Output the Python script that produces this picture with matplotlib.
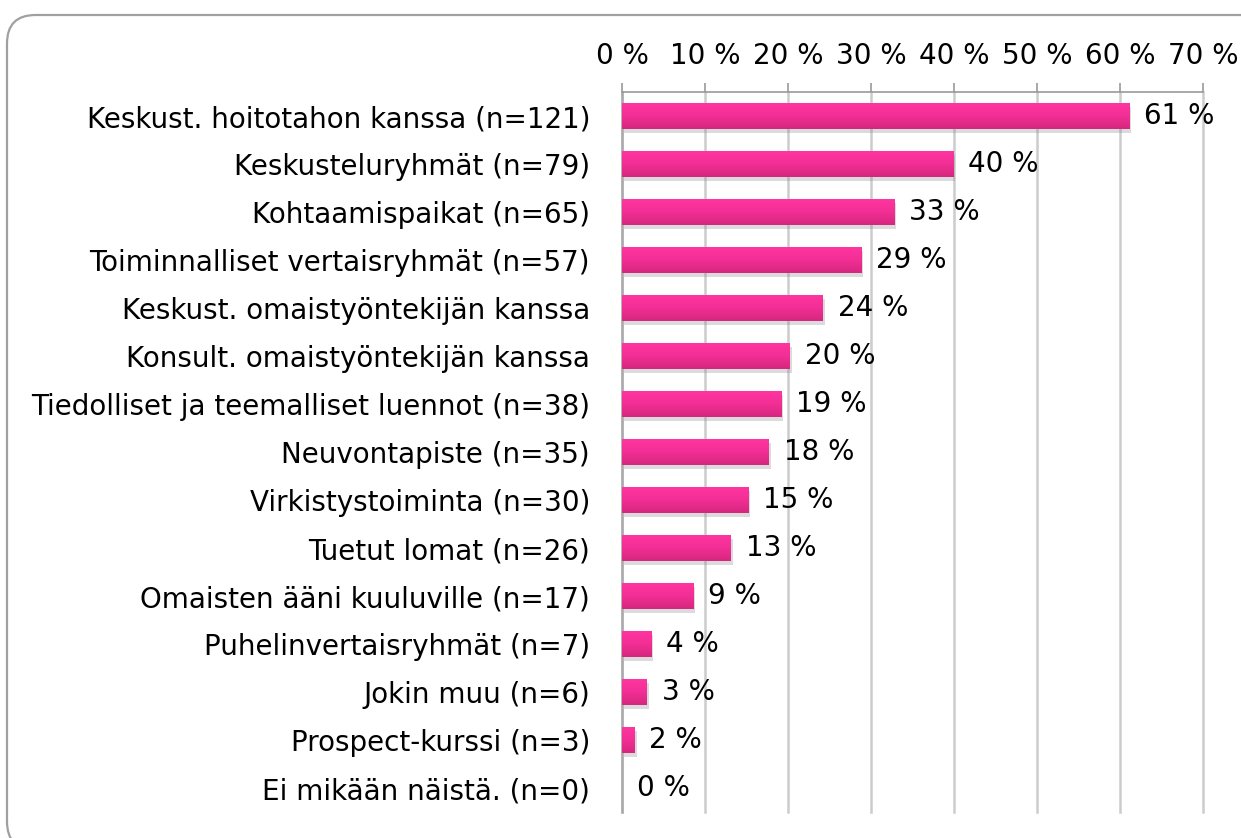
import numpy as np
import matplotlib
matplotlib.use("Agg")
import matplotlib.pyplot as plt
import matplotlib.patheffects as pe
from matplotlib.patches import FancyBboxPatch
from matplotlib.colors import LinearSegmentedColormap

# ---------------- data ----------------
labels = [
    "Keskust. hoitotahon kanssa (n=121)",
    "Keskusteluryhmät (n=79)",
    "Kohtaamispaikat (n=65)",
    "Toiminnalliset vertaisryhmät (n=57)",
    "Keskust. omaistyöntekijän kanssa",
    "Konsult. omaistyöntekijän kanssa",
    "Tiedolliset ja teemalliset luennot (n=38)",
    "Neuvontapiste (n=35)",
    "Virkistystoiminta (n=30)",
    "Tuetut lomat (n=26)",
    "Omaisten ääni kuuluville (n=17)",
    "Puhelinvertaisryhmät (n=7)",
    "Jokin muu (n=6)",
    "Prospect-kurssi (n=3)",
    "Ei mikään näistä. (n=0)",
]
values = [61.1, 39.9, 32.8, 28.8, 24.2, 20.2, 19.2, 17.7, 15.2, 13.1, 8.6, 3.5, 3.0, 1.5, 0.0]
value_labels = ["61 %", "40 %", "33 %", "29 %", "24 %", "20 %", "19 %", "18 %",
                "15 %", "13 %", "9 %", "4 %", "3 %", "2 %", "0 %"]
xticks = [0, 10, 20, 30, 40, 50, 60, 70]
xtick_labels = ["0 %", "10 %", "20 %", "30 %", "40 %", "50 %", "60 %", "70 %"]

plt.rcParams['font.family'] = ['DejaVu Sans']
W, H = 1241, 838
FS = 20
fig = plt.figure(figsize=(W / 100, H / 100), dpi=100)

# rounded frame around the chart (clipped at right and bottom)
frame = FancyBboxPatch((7 / W, -12 / H), (W + 40) / W, (H - 15 + 12) / H,
                       boxstyle="round,pad=0,rounding_size=0.023",
                       transform=fig.transFigure, facecolor="none",
                       edgecolor="#a0a0a0", linewidth=1.6, mutation_aspect=W / H,
                       zorder=-5)
fig.patches.append(frame)

ax = fig.add_axes([622 / W, 1 - 812 / H, (1203 - 622) / W, (812 - 92) / H])
ax.set_facecolor("none")

y = np.arange(len(labels))
bars = ax.barh(y, values, height=0.54, color="#f0308f", zorder=3,
               path_effects=[pe.SimplePatchShadow(offset=(1.5, -3), shadow_rgbFace="#888888", alpha=0.3),
                             pe.Normal()])

# vertical gradient inside the bars
cmap = LinearSegmentedColormap.from_list("pink", ["#ff35a0", "#f22f95", "#d6267f"])
grad = np.linspace(0, 1, 64).reshape(-1, 1)
for b in bars:
    if b.get_width() <= 0:
        continue
    x0, y0 = b.get_x(), b.get_y()
    im = ax.imshow(grad, cmap=cmap, aspect="auto", zorder=4,
                   extent=(x0, x0 + b.get_width(), y0 + b.get_height(), y0))
    im.set_clip_path(b)

for yi, v, t in zip(y, values, value_labels):
    ax.text(v + 1.8, yi, t, va="center", ha="left", fontsize=FS, color="black", zorder=5)

ax.set_xlim(0, 70)
ax.set_ylim(len(labels) - 0.5, -0.5)
ax.set_yticks(y)
ax.set_yticklabels(labels, fontsize=FS)
ax.set_xticks(xticks)
ax.set_xticklabels(xtick_labels, fontsize=FS)
ax.xaxis.tick_top()
ax.tick_params(axis="x", direction="out", length=6.5, width=1.2, color="#999999", pad=9)
ax.tick_params(axis="y", length=0, pad=23)

ax.grid(axis="x", color="#cccccc", linewidth=1.8, zorder=0)
ax.set_axisbelow(True)
for gl in ax.get_xgridlines():
    gl.set_clip_on(False)
for s in ["right", "bottom"]:
    ax.spines[s].set_visible(False)
ax.spines["top"].set_color("#999999")
ax.spines["top"].set_linewidth(1.2)
ax.spines["left"].set_color("#aaaaaa")
ax.spines["left"].set_linewidth(1.8)

fig.savefig("out.png", dpi=100)
